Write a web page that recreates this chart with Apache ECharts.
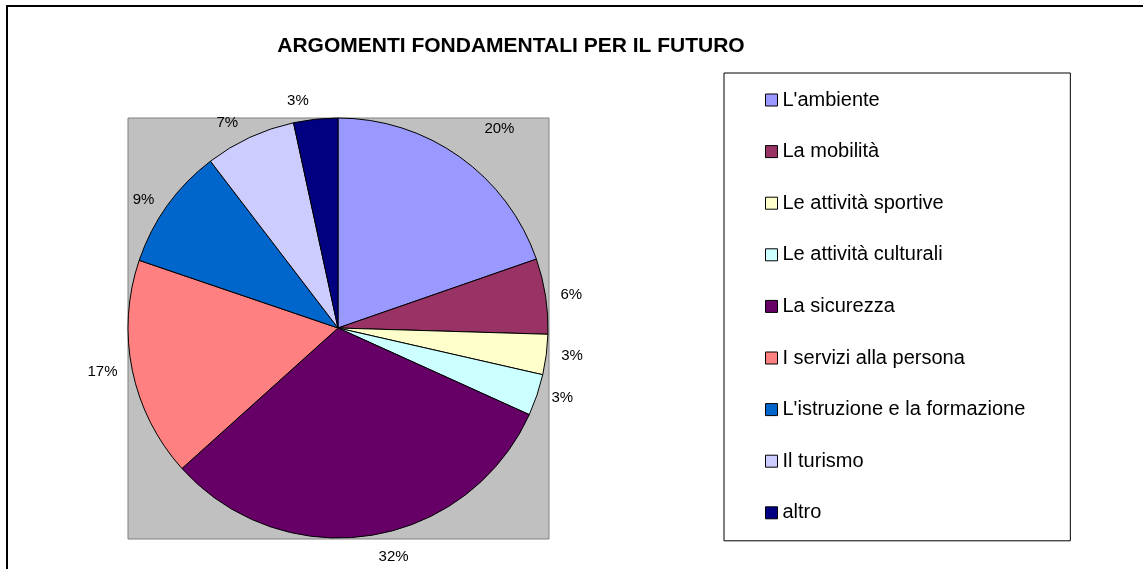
<!DOCTYPE html>
<html>
<head>
<meta charset="utf-8">
<script src="https://cdn.jsdelivr.net/npm/echarts@6/dist/echarts.min.js"></script>
<style>
  html, body { margin: 0; padding: 0; background: #fff; }
  #main { width: 1143px; height: 569px; }
</style>
</head>
<body>
<div id="main"></div>
<script>
var categories = ["L'ambiente", 'La mobilità', 'Le attività sportive', 'Le attività culturali',
    'La sicurezza', 'I servizi alla persona', "L'istruzione e la formazione", 'Il turismo', 'altro'];
var values = [19.7, 5.8, 3.1, 3.2, 31.6, 16.9, 9.4, 7.0, 3.4];
var colors = ['#9999FF', '#993366', '#FFFFCC', '#CCFFFF', '#660066', '#FF8080', '#0066CC', '#CCCCFF', '#000080'];
// Excel pushes a couple of labels further out
var labelDist = [34, 10, 10, 10, 22, 10, 10, 16, 18];

var myChart = echarts.init(document.getElementById('main'));

var pieData = categories.map(function (name, i) {
    return {
        name: name,
        value: values[i],
        itemStyle: { color: colors[i] },
        labelLine: { show: false, length: labelDist[i], length2: 0 }
    };
});

option = {
    animation: false,
    textStyle: {
        fontFamily: 'Liberation Sans, Arial, sans-serif'
    },
    title: {
        text: 'ARGOMENTI FONDAMENTALI PER IL FUTURO',
        left: 506,
        top: 31,
        textAlign: 'center',
        textStyle: {
            fontSize: 21,
            fontWeight: 'bold',
            color: '#000',
            fontFamily: 'Liberation Sans, Arial, sans-serif'
        }
    },
    graphic: [
        {
            type: 'rect',
            z: 0,
            shape: { x: 7, y: 6, width: 1200, height: 600 },
            style: { fill: 'none', stroke: '#000', lineWidth: 2 }
        },
        {
            type: 'rect',
            z: 0,
            shape: { x: 128, y: 118, width: 421, height: 421 },
            style: { fill: '#C0C0C0', stroke: '#808080', lineWidth: 1 }
        }
    ],
    legend: {
        orient: 'vertical',
        left: 724,
        top: 73,
        height: 480,
        padding: [17, 45, 18, 41],
        itemGap: 31.6,
        itemWidth: 12,
        itemHeight: 12,
        icon: 'rect',
        borderColor: '#000',
        borderWidth: 1,
        backgroundColor: '#fff',
        itemStyle: { borderColor: '#000', borderWidth: 1 },
        textStyle: {
            fontSize: 20,
            lineHeight: 20,
            color: '#000',
            fontFamily: 'Liberation Sans, Arial, sans-serif'
        },
        data: categories
    },
    series: [
        {
            type: 'pie',
            center: [338, 328],
            radius: 210,
            startAngle: 90,
            clockwise: true,
            avoidLabelOverlap: false,
            itemStyle: {
                borderColor: '#000',
                borderWidth: 1
            },
            label: {
                show: true,
                position: 'outside',
                fontSize: 15,
                color: '#000',
                fontFamily: 'Liberation Sans, Arial, sans-serif',
                formatter: function (p) {
                    return Math.round(p.percent) + '%';
                }
            },
            labelLine: {
                show: false,
                length: 10,
                length2: 0
            },
            emphasis: { disabled: true },
            data: pieData
        }
    ]
};
myChart.setOption(option);
</script>
</body>
</html>
